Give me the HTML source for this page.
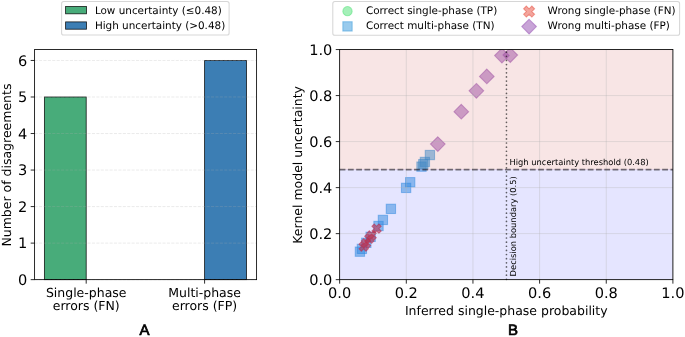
<!DOCTYPE html>
<html lang="en"><head><meta charset="utf-8"><title>Figure</title>
<style>html,body{margin:0;padding:0;background:#fff}svg{display:block;will-change:transform}</style></head>
<body>
<svg width="685" height="337" viewBox="0 0 685 337" font-family='"DejaVu Sans","Liberation Sans",sans-serif' fill="#000" text-rendering="geometricPrecision">
<rect x="44.4" y="96.99" width="41.80" height="182.66" fill="#48ac7a" stroke="#000" stroke-opacity="0.85" stroke-width="0.83"/>
<rect x="204.6" y="60.46" width="41.90" height="219.19" fill="#3c7eb4" stroke="#000" stroke-opacity="0.85" stroke-width="0.83"/>
<line x1="34.6" x2="256.6" y1="279.65" y2="279.65" stroke="#b0b0b0" stroke-opacity="0.3" stroke-width="0.83" stroke-dasharray="3.08 1.33"/>
<line x1="34.6" x2="256.6" y1="243.12" y2="243.12" stroke="#b0b0b0" stroke-opacity="0.3" stroke-width="0.83" stroke-dasharray="3.08 1.33"/>
<line x1="34.6" x2="256.6" y1="206.59" y2="206.59" stroke="#b0b0b0" stroke-opacity="0.3" stroke-width="0.83" stroke-dasharray="3.08 1.33"/>
<line x1="34.6" x2="256.6" y1="170.05" y2="170.05" stroke="#b0b0b0" stroke-opacity="0.3" stroke-width="0.83" stroke-dasharray="3.08 1.33"/>
<line x1="34.6" x2="256.6" y1="133.52" y2="133.52" stroke="#b0b0b0" stroke-opacity="0.3" stroke-width="0.83" stroke-dasharray="3.08 1.33"/>
<line x1="34.6" x2="256.6" y1="96.99" y2="96.99" stroke="#b0b0b0" stroke-opacity="0.3" stroke-width="0.83" stroke-dasharray="3.08 1.33"/>
<line x1="34.6" x2="256.6" y1="60.46" y2="60.46" stroke="#b0b0b0" stroke-opacity="0.3" stroke-width="0.83" stroke-dasharray="3.08 1.33"/>
<rect x="34.6" y="49.5" width="222.00" height="230.15" fill="none" stroke="#000" stroke-width="0.83"/>
<line x1="30.70" x2="34.6" y1="279.65" y2="279.65" stroke="#000" stroke-width="0.83"/>
<text x="27.32" y="285.00" font-size="14.57" text-anchor="end">0</text>
<line x1="30.70" x2="34.6" y1="243.12" y2="243.12" stroke="#000" stroke-width="0.83"/>
<text x="27.32" y="248.47" font-size="14.57" text-anchor="end">1</text>
<line x1="30.70" x2="34.6" y1="206.59" y2="206.59" stroke="#000" stroke-width="0.83"/>
<text x="27.32" y="211.94" font-size="14.57" text-anchor="end">2</text>
<line x1="30.70" x2="34.6" y1="170.05" y2="170.05" stroke="#000" stroke-width="0.83"/>
<text x="27.32" y="175.40" font-size="14.57" text-anchor="end">3</text>
<line x1="30.70" x2="34.6" y1="133.52" y2="133.52" stroke="#000" stroke-width="0.83"/>
<text x="27.32" y="138.87" font-size="14.57" text-anchor="end">4</text>
<line x1="30.70" x2="34.6" y1="96.99" y2="96.99" stroke="#000" stroke-width="0.83"/>
<text x="27.32" y="102.34" font-size="14.57" text-anchor="end">5</text>
<line x1="30.70" x2="34.6" y1="60.46" y2="60.46" stroke="#000" stroke-width="0.83"/>
<text x="27.32" y="65.81" font-size="14.57" text-anchor="end">6</text>
<line x1="86.2" x2="86.2" y1="279.65" y2="283.65" stroke="#000" stroke-width="0.83"/>
<text x="86.2" y="296.5" font-size="12.49" text-anchor="middle">Single-phase</text>
<text x="86.2" y="310.25" font-size="12.49" text-anchor="middle">errors (FN)</text>
<line x1="204.6" x2="204.6" y1="279.65" y2="283.65" stroke="#000" stroke-width="0.83"/>
<text x="204.6" y="296.5" font-size="12.49" text-anchor="middle">Multi-phase</text>
<text x="204.6" y="310.25" font-size="12.49" text-anchor="middle">errors (FP)</text>
<text transform="translate(11.3 165.07) rotate(-90)" font-size="12.49" text-anchor="middle">Number of disagreements</text>
<rect x="61.6" y="1.4" width="167.50" height="33.70" rx="2.1" fill="#fff" fill-opacity="0.8" stroke="#ccc" stroke-opacity="0.8" stroke-width="1.04"/>
<rect x="65.6" y="6.5" width="20.9" height="7.3" fill="#48ac7a" stroke="#000" stroke-opacity="0.85" stroke-width="0.83"/>
<rect x="65.6" y="21.9" width="20.9" height="7.3" fill="#3c7eb4" stroke="#000" stroke-opacity="0.85" stroke-width="0.83"/>
<text x="94.9" y="13.8" font-size="10.41">Low uncertainty (≤0.48)</text>
<text x="94.9" y="29.45" font-size="10.41">High uncertainty (&gt;0.48)</text>
<text x="144.6" y="335.3" font-size="15" stroke="#000" stroke-width="0.7" text-anchor="middle" font-family='"Liberation Sans",sans-serif'>A</text>
<clipPath id="cb"><rect x="339.65" y="49.55" width="333.25" height="230.10"/></clipPath>
<g clip-path="url(#cb)">
<rect x="355.26" y="247.02" width="9.3" height="9.3" fill="#3498db" fill-opacity="0.5" stroke="#3498db" stroke-opacity="0.5" stroke-width="1.04"/>
<rect x="357.26" y="244.26" width="9.3" height="9.3" fill="#3498db" fill-opacity="0.5" stroke="#3498db" stroke-opacity="0.5" stroke-width="1.04"/>
<rect x="361.66" y="238.18" width="9.3" height="9.3" fill="#3498db" fill-opacity="0.5" stroke="#3498db" stroke-opacity="0.5" stroke-width="1.04"/>
<rect x="365.99" y="232.20" width="9.3" height="9.3" fill="#3498db" fill-opacity="0.5" stroke="#3498db" stroke-opacity="0.5" stroke-width="1.04"/>
<rect x="373.86" y="221.34" width="9.3" height="9.3" fill="#3498db" fill-opacity="0.5" stroke="#3498db" stroke-opacity="0.5" stroke-width="1.04"/>
<rect x="378.26" y="215.27" width="9.3" height="9.3" fill="#3498db" fill-opacity="0.5" stroke="#3498db" stroke-opacity="0.5" stroke-width="1.04"/>
<rect x="386.25" y="204.22" width="9.3" height="9.3" fill="#3498db" fill-opacity="0.5" stroke="#3498db" stroke-opacity="0.5" stroke-width="1.04"/>
<rect x="401.45" y="183.24" width="9.3" height="9.3" fill="#3498db" fill-opacity="0.5" stroke="#3498db" stroke-opacity="0.5" stroke-width="1.04"/>
<rect x="405.55" y="177.58" width="9.3" height="9.3" fill="#3498db" fill-opacity="0.5" stroke="#3498db" stroke-opacity="0.5" stroke-width="1.04"/>
<rect x="416.85" y="161.97" width="9.3" height="9.3" fill="#3498db" fill-opacity="0.5" stroke="#3498db" stroke-opacity="0.5" stroke-width="1.04"/>
<rect x="418.65" y="159.49" width="9.3" height="9.3" fill="#3498db" fill-opacity="0.5" stroke="#3498db" stroke-opacity="0.5" stroke-width="1.04"/>
<rect x="420.25" y="157.28" width="9.3" height="9.3" fill="#3498db" fill-opacity="0.5" stroke="#3498db" stroke-opacity="0.5" stroke-width="1.04"/>
<rect x="425.24" y="150.38" width="9.3" height="9.3" fill="#3498db" fill-opacity="0.5" stroke="#3498db" stroke-opacity="0.5" stroke-width="1.04"/>
<path d="M374.25 224.01L376.57 226.33L378.90 224.01L381.22 226.33L378.90 228.66L381.22 230.98L378.90 233.31L376.57 230.98L374.25 233.31L371.92 230.98L374.25 228.66L371.92 226.33Z" fill="#d2373c" fill-opacity="0.6" stroke="#d2373c" stroke-opacity="0.6" stroke-width="1.04" stroke-linejoin="miter"/>
<path d="M369.32 230.82L371.64 233.15L373.97 230.82L376.29 233.15L373.97 235.47L376.29 237.80L373.97 240.12L371.64 237.80L369.32 240.12L366.99 237.80L369.32 235.47L366.99 233.15Z" fill="#d2373c" fill-opacity="0.6" stroke="#d2373c" stroke-opacity="0.6" stroke-width="1.04" stroke-linejoin="miter"/>
<path d="M366.98 234.04L369.31 236.37L371.63 234.04L373.96 236.37L371.63 238.69L373.96 241.02L371.63 243.34L369.31 241.02L366.98 243.34L364.66 241.02L366.98 238.69L364.66 236.37Z" fill="#d2373c" fill-opacity="0.6" stroke="#d2373c" stroke-opacity="0.6" stroke-width="1.04" stroke-linejoin="miter"/>
<path d="M363.65 238.64L365.98 240.97L368.30 238.64L370.63 240.97L368.30 243.29L370.63 245.62L368.30 247.94L365.98 245.62L363.65 247.94L361.33 245.62L363.65 243.29L361.33 240.97Z" fill="#d2373c" fill-opacity="0.6" stroke="#d2373c" stroke-opacity="0.6" stroke-width="1.04" stroke-linejoin="miter"/>
<path d="M361.32 241.87L363.64 244.19L365.97 241.87L368.29 244.19L365.97 246.52L368.29 248.84L365.97 251.17L363.64 248.84L361.32 251.17L358.99 248.84L361.32 246.52L358.99 244.19Z" fill="#d2373c" fill-opacity="0.6" stroke="#d2373c" stroke-opacity="0.6" stroke-width="1.04" stroke-linejoin="miter"/>
<path d="M437.79 136.77L445.14 144.12L437.79 151.47L430.44 144.12Z" fill="#9b59b6" fill-opacity="0.5" stroke="#9b59b6" stroke-opacity="0.5" stroke-width="1.04"/>
<path d="M461.29 104.33L468.64 111.68L461.29 119.03L453.94 111.68Z" fill="#9b59b6" fill-opacity="0.5" stroke="#9b59b6" stroke-opacity="0.5" stroke-width="1.04"/>
<path d="M476.38 83.48L483.73 90.83L476.38 98.18L469.03 90.83Z" fill="#9b59b6" fill-opacity="0.5" stroke="#9b59b6" stroke-opacity="0.5" stroke-width="1.04"/>
<path d="M486.81 69.08L494.16 76.43L486.81 83.78L479.46 76.43Z" fill="#9b59b6" fill-opacity="0.5" stroke="#9b59b6" stroke-opacity="0.5" stroke-width="1.04"/>
<path d="M501.91 48.23L509.26 55.58L501.91 62.93L494.56 55.58Z" fill="#9b59b6" fill-opacity="0.5" stroke="#9b59b6" stroke-opacity="0.5" stroke-width="1.04"/>
<path d="M510.27 47.72L517.62 55.07L510.27 62.42L502.92 55.07Z" fill="#9b59b6" fill-opacity="0.5" stroke="#9b59b6" stroke-opacity="0.5" stroke-width="1.04"/>
</g>
<rect x="339.65" y="49.55" width="333.25" height="120.55" fill="#b90000" fill-opacity="0.1"/>
<rect x="339.65" y="169.10" width="333.25" height="110.55" fill="#00f" fill-opacity="0.1"/>
<line x1="339.65" x2="339.65" y1="49.55" y2="279.65" stroke="#b0b0b0" stroke-opacity="0.4" stroke-width="0.83"/>
<line x1="339.65" x2="672.9" y1="279.65" y2="279.65" stroke="#b0b0b0" stroke-opacity="0.4" stroke-width="0.83"/>
<line x1="406.30" x2="406.30" y1="49.55" y2="279.65" stroke="#b0b0b0" stroke-opacity="0.4" stroke-width="0.83"/>
<line x1="339.65" x2="672.9" y1="233.63" y2="233.63" stroke="#b0b0b0" stroke-opacity="0.4" stroke-width="0.83"/>
<line x1="472.95" x2="472.95" y1="49.55" y2="279.65" stroke="#b0b0b0" stroke-opacity="0.4" stroke-width="0.83"/>
<line x1="339.65" x2="672.9" y1="187.61" y2="187.61" stroke="#b0b0b0" stroke-opacity="0.4" stroke-width="0.83"/>
<line x1="539.60" x2="539.60" y1="49.55" y2="279.65" stroke="#b0b0b0" stroke-opacity="0.4" stroke-width="0.83"/>
<line x1="339.65" x2="672.9" y1="141.59" y2="141.59" stroke="#b0b0b0" stroke-opacity="0.4" stroke-width="0.83"/>
<line x1="606.25" x2="606.25" y1="49.55" y2="279.65" stroke="#b0b0b0" stroke-opacity="0.4" stroke-width="0.83"/>
<line x1="339.65" x2="672.9" y1="95.57" y2="95.57" stroke="#b0b0b0" stroke-opacity="0.4" stroke-width="0.83"/>
<line x1="672.90" x2="672.90" y1="49.55" y2="279.65" stroke="#b0b0b0" stroke-opacity="0.4" stroke-width="0.83"/>
<line x1="339.65" x2="672.9" y1="49.55" y2="49.55" stroke="#b0b0b0" stroke-opacity="0.4" stroke-width="0.83"/>
<line x1="339.65" x2="672.9" y1="169.60" y2="169.60" stroke="#000" stroke-opacity="0.52" stroke-width="1.56" stroke-dasharray="5.78 2.49"/>
<line x1="506.47" x2="506.47" y1="279.30" y2="49.55" stroke="#000" stroke-opacity="0.6" stroke-width="1.7" stroke-linecap="round" stroke-dasharray="0.01 4.12"/>
<text x="509.5" y="165.0" font-size="8.33">High uncertainty threshold (0.48)</text>
<text transform="translate(516.4 276.4) rotate(-90)" font-size="8.33">Decision boundary (0.5)</text>
<rect x="339.65" y="49.55" width="333.25" height="230.10" fill="none" stroke="#000" stroke-width="0.83"/>
<line x1="335.75" x2="339.65" y1="279.65" y2="279.65" stroke="#000" stroke-width="0.83"/>
<text x="332.37" y="285.00" font-size="14.57" text-anchor="end">0.0</text>
<line x1="339.65" x2="339.65" y1="279.65" y2="283.65" stroke="#000" stroke-width="0.83"/>
<text x="339.65" y="298.4" font-size="14.57" text-anchor="middle">0.0</text>
<line x1="335.75" x2="339.65" y1="233.63" y2="233.63" stroke="#000" stroke-width="0.83"/>
<text x="332.37" y="238.98" font-size="14.57" text-anchor="end">0.2</text>
<line x1="406.30" x2="406.30" y1="279.65" y2="283.65" stroke="#000" stroke-width="0.83"/>
<text x="406.30" y="298.4" font-size="14.57" text-anchor="middle">0.2</text>
<line x1="335.75" x2="339.65" y1="187.61" y2="187.61" stroke="#000" stroke-width="0.83"/>
<text x="332.37" y="192.96" font-size="14.57" text-anchor="end">0.4</text>
<line x1="472.95" x2="472.95" y1="279.65" y2="283.65" stroke="#000" stroke-width="0.83"/>
<text x="472.95" y="298.4" font-size="14.57" text-anchor="middle">0.4</text>
<line x1="335.75" x2="339.65" y1="141.59" y2="141.59" stroke="#000" stroke-width="0.83"/>
<text x="332.37" y="146.94" font-size="14.57" text-anchor="end">0.6</text>
<line x1="539.60" x2="539.60" y1="279.65" y2="283.65" stroke="#000" stroke-width="0.83"/>
<text x="539.60" y="298.4" font-size="14.57" text-anchor="middle">0.6</text>
<line x1="335.75" x2="339.65" y1="95.57" y2="95.57" stroke="#000" stroke-width="0.83"/>
<text x="332.37" y="100.92" font-size="14.57" text-anchor="end">0.8</text>
<line x1="606.25" x2="606.25" y1="279.65" y2="283.65" stroke="#000" stroke-width="0.83"/>
<text x="606.25" y="298.4" font-size="14.57" text-anchor="middle">0.8</text>
<line x1="335.75" x2="339.65" y1="49.55" y2="49.55" stroke="#000" stroke-width="0.83"/>
<text x="332.37" y="54.90" font-size="14.57" text-anchor="end">1.0</text>
<line x1="672.90" x2="672.90" y1="279.65" y2="283.65" stroke="#000" stroke-width="0.83"/>
<text x="672.90" y="298.4" font-size="14.57" text-anchor="middle">1.0</text>
<text x="506.27" y="314.5" font-size="12.49" text-anchor="middle">Inferred single-phase probability</text>
<text transform="translate(302.0 164.88) rotate(-90)" font-size="12.49" text-anchor="middle">Kernel model uncertainty</text>
<rect x="332.8" y="1.6" width="346.80" height="33.70" rx="2.1" fill="#fff" fill-opacity="0.8" stroke="#ccc" stroke-opacity="0.8" stroke-width="1.04"/>
<circle cx="347.5" cy="11.2" r="4.65" fill="#4be173" fill-opacity="0.5" stroke="#4be173" stroke-opacity="0.5" stroke-width="1.04"/>
<rect x="342.85" y="21.75" width="9.3" height="9.3" fill="#3498db" fill-opacity="0.5" stroke="#3498db" stroke-opacity="0.5" stroke-width="1.04"/>
<path d="M526.35 6.10L529.10 8.85L531.85 6.10L534.60 8.85L531.85 11.60L534.60 14.35L531.85 17.10L529.10 14.35L526.35 17.10L523.60 14.35L526.35 11.60L523.60 8.85Z" fill="#e74c3c" fill-opacity="0.5" stroke="#e74c3c" stroke-opacity="0.5" stroke-width="1.04" stroke-linejoin="miter"/>
<path d="M529.10 19.25L536.45 26.60L529.10 33.95L521.75 26.60Z" fill="#9b59b6" fill-opacity="0.55" stroke="#9b59b6" stroke-opacity="0.55" stroke-width="1.04"/>
<text x="365.9" y="13.9" font-size="10.41">Correct single-phase (TP)</text>
<text x="365.9" y="29.3" font-size="10.41">Correct multi-phase (TN)</text>
<text x="547.6" y="13.9" font-size="10.41">Wrong single-phase (FN)</text>
<text x="547.6" y="29.3" font-size="10.41">Wrong multi-phase (FP)</text>
<text x="512.9" y="335.3" font-size="15" stroke="#000" stroke-width="0.7" text-anchor="middle" font-family='"Liberation Sans",sans-serif'>B</text>
</svg>
</body></html>
